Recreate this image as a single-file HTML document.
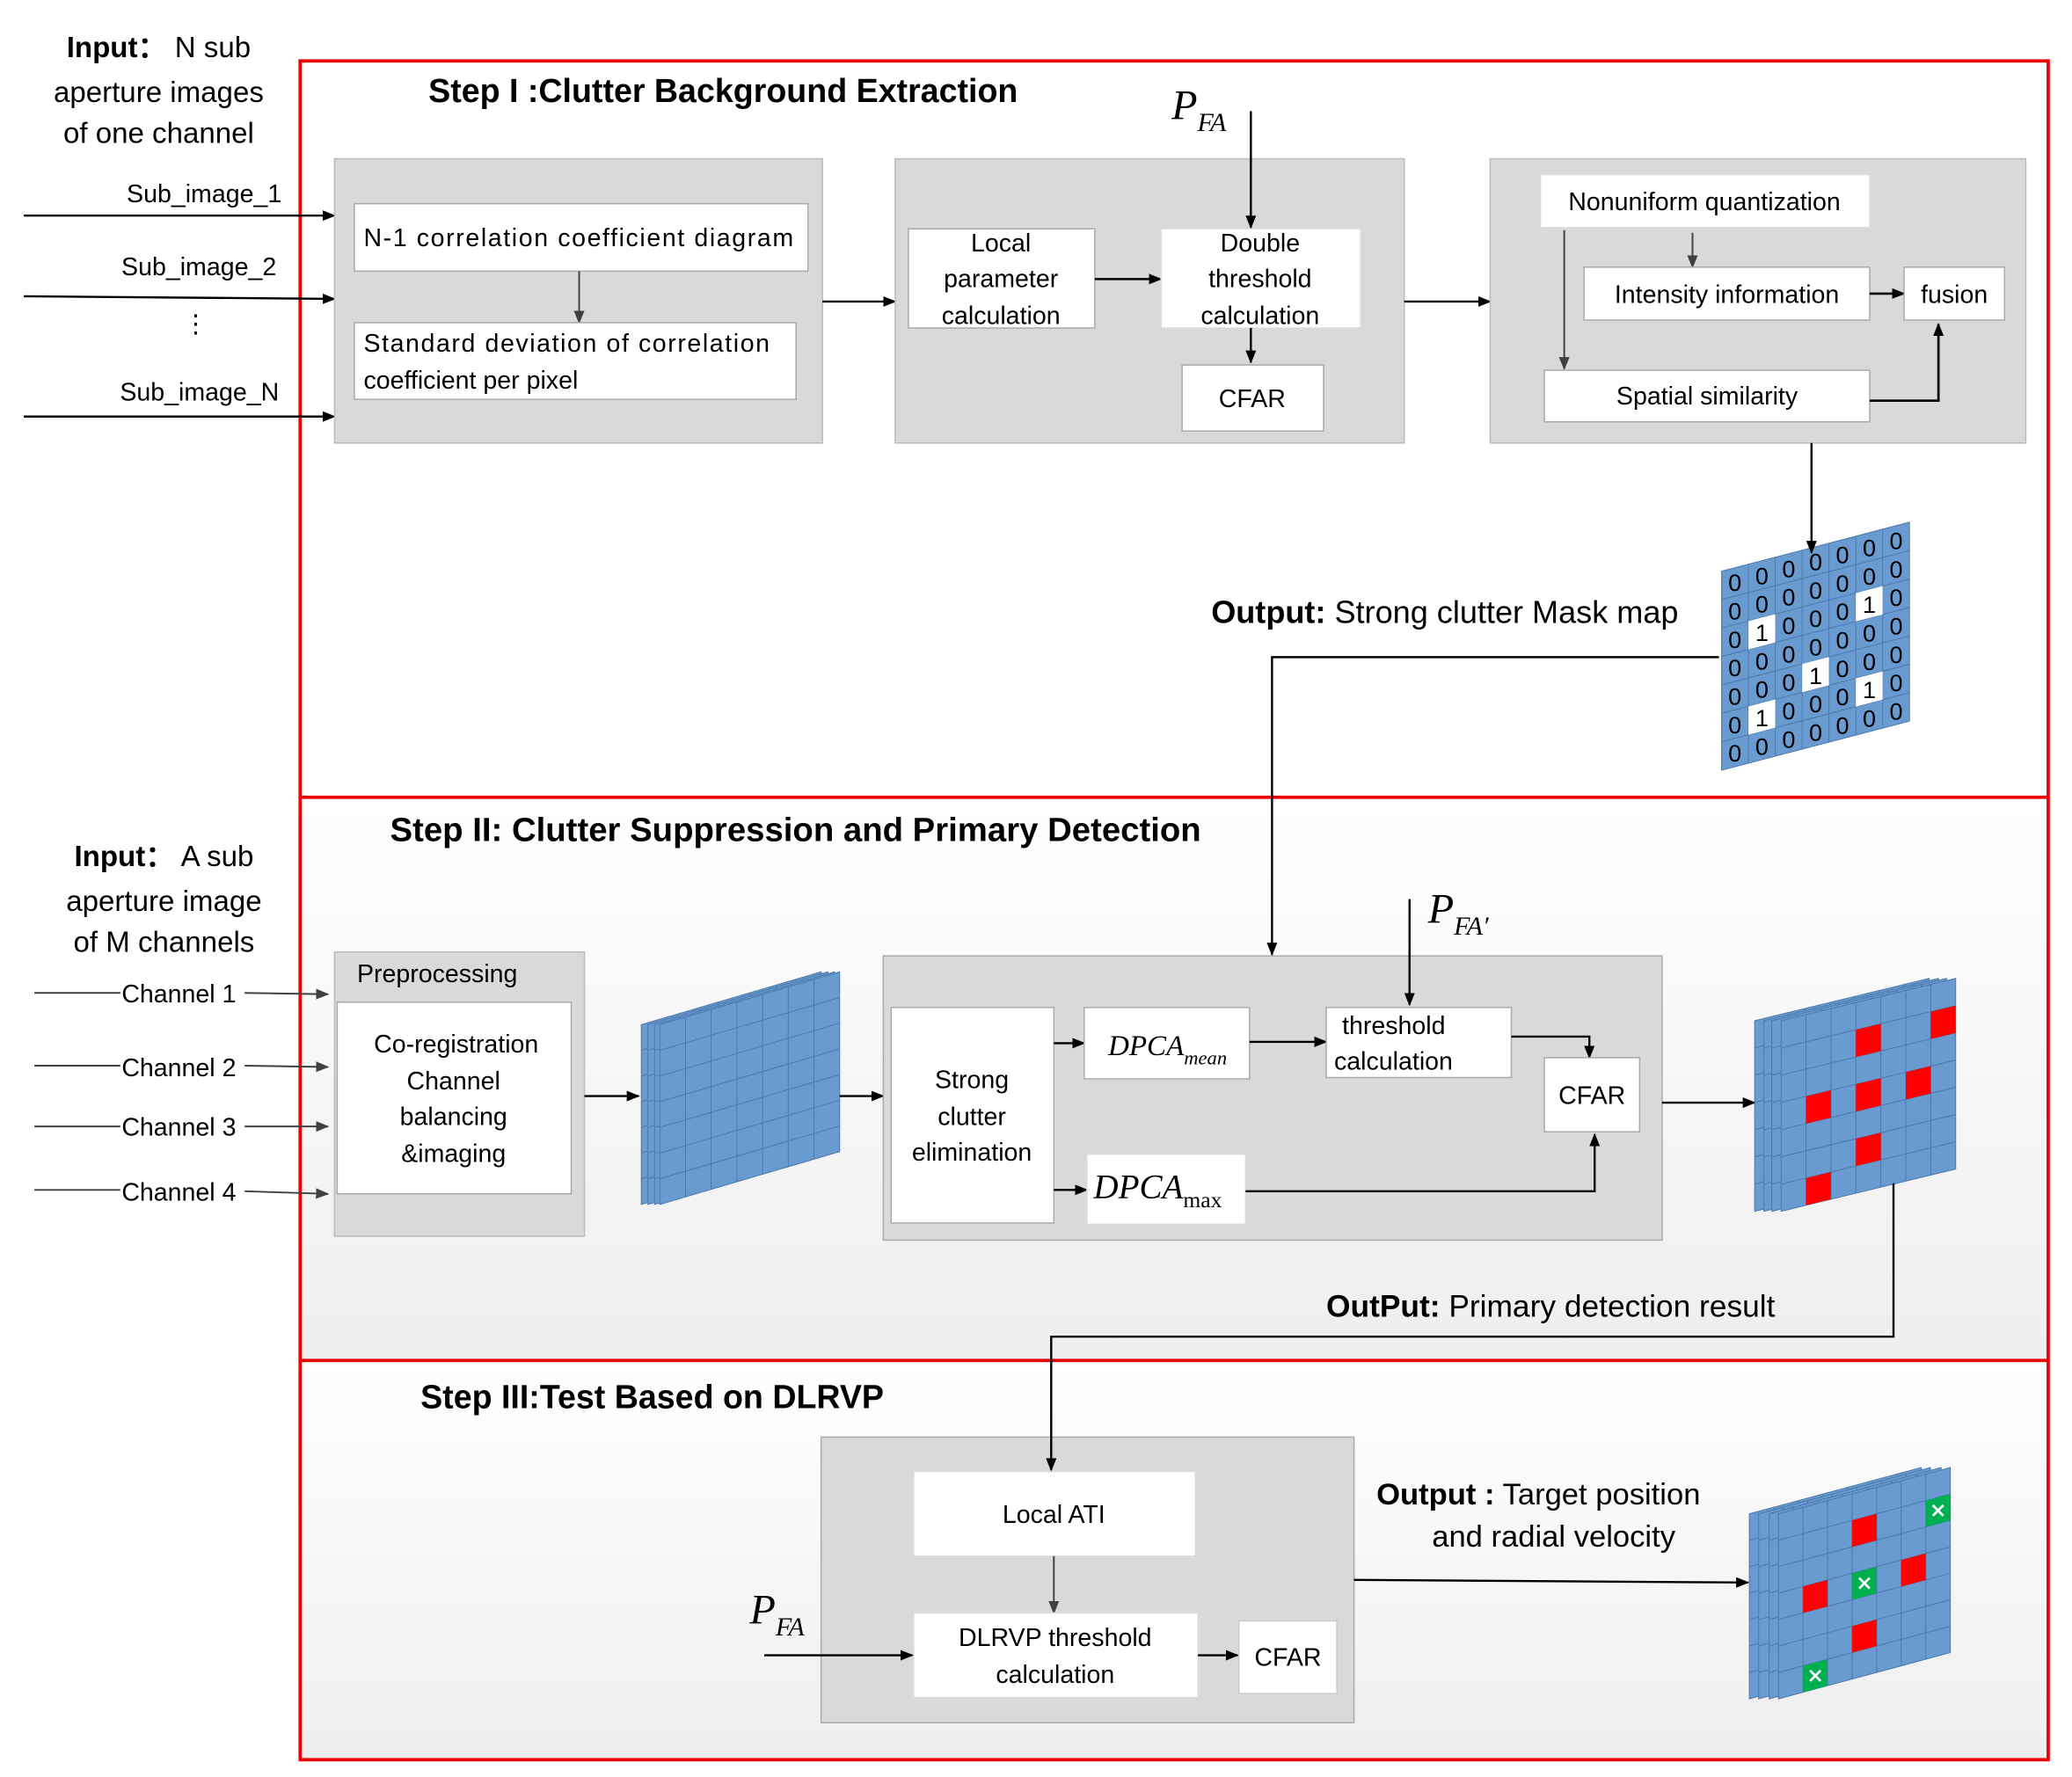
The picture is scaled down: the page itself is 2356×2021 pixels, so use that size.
<!DOCTYPE html>
<html><head><meta charset="utf-8"><style>
html,body{margin:0;padding:0;background:#fff}
svg{display:block}
text{font-family:"Liberation Sans",sans-serif;fill:#000}
.t{font-size:19px}
.b{font-weight:bold}
.m{font-family:"Liberation Serif",serif;font-style:italic}
.d{font-size:18px;text-anchor:middle}
</style></head><body>
<svg width="2356" height="2021" viewBox="0 0 1567 1344" xmlns="http://www.w3.org/2000/svg">
<defs>
<marker id="ar" markerWidth="10" markerHeight="10" refX="9" refY="5" orient="auto" markerUnits="userSpaceOnUse"><path d="M0,1 L10,5 L0,9 Z" fill="#000"/></marker>
<marker id="ag" markerWidth="10" markerHeight="10" refX="9" refY="5" orient="auto" markerUnits="userSpaceOnUse"><path d="M0,1 L10,5 L0,9 Z" fill="#404040"/></marker>
<linearGradient id="gr" x1="0" y1="0" x2="0" y2="1"><stop offset="0" stop-color="#ffffff"/><stop offset="1" stop-color="#eeeeee"/></linearGradient>
<g id="layer"><rect x="0" y="0" width="7" height="7" fill="#6a9bd0" stroke="#4a78ad" stroke-width="1" vector-effect="non-scaling-stroke"/><path d="M1 0V7M2 0V7M3 0V7M4 0V7M5 0V7M6 0V7M0 1H7M0 2H7M0 3H7M0 4H7M0 5H7M0 6H7" stroke="#4a78ad" stroke-width="1" vector-effect="non-scaling-stroke" fill="none"/></g>
</defs>

<rect x="227" y="603" width="1322" height="426" fill="url(#gr)"/>
<rect x="227" y="1029" width="1322" height="302" fill="url(#gr)"/>
<rect x="227" y="46" width="1322" height="1285" fill="none" stroke="#e00" stroke-width="2.5"/>
<line x1="227" y1="603" x2="1549" y2="603" stroke="#e00" stroke-width="2.5"/>
<line x1="227" y1="1029" x2="1549" y2="1029" stroke="#e00" stroke-width="2.5"/>

<text x="120" y="43" text-anchor="middle" style="font-size:22px"><tspan class="b">Input：</tspan> N sub</text>
<text x="120" y="77" text-anchor="middle" style="font-size:22px">aperture images</text>
<text x="120" y="108" text-anchor="middle" style="font-size:22px">of one channel</text>
<text x="213" y="153" text-anchor="end" class="t">Sub_image_1</text>
<text x="209" y="208" text-anchor="end" class="t">Sub_image_2</text>
<text x="148" y="251" text-anchor="middle" class="t">⋮</text>
<text x="211" y="303" text-anchor="end" class="t">Sub_image_N</text>
<line x1="18" y1="163" x2="253" y2="163" stroke="#000" stroke-width="1.6" marker-end="url(#ar)"/>
<line x1="18" y1="224" x2="253" y2="226" stroke="#000" stroke-width="1.6" marker-end="url(#ar)"/>
<line x1="18" y1="315" x2="253" y2="315" stroke="#000" stroke-width="1.6" marker-end="url(#ar)"/>

<text x="324" y="77" class="b" style="font-size:25px">Step I :Clutter Background Extraction</text>

<rect x="253" y="120" width="369" height="215" fill="#d9d9d9" stroke="#bbb"/>
<rect x="268" y="154" width="343" height="51" fill="#fff" stroke="#aaa"/>
<text x="275" y="186" class="t" textLength="325">N-1 correlation coefficient diagram</text>
<line x1="438" y1="205" x2="438" y2="244" stroke="#404040" stroke-width="1.3" marker-end="url(#ag)"/>
<rect x="268" y="244" width="334" height="58" fill="#fff" stroke="#aaa"/>
<text x="275" y="266" class="t" textLength="307">Standard deviation of correlation</text>
<text x="275" y="294" class="t">coefficient per pixel</text>
<line x1="622" y1="228" x2="677" y2="228" stroke="#000" stroke-width="1.6" marker-end="url(#ar)"/>

<rect x="677" y="120" width="385" height="215" fill="#d9d9d9" stroke="#bbb"/>
<rect x="687" y="173" width="141" height="75" fill="#fff" stroke="#aaa"/>
<text x="757" y="190" class="t" text-anchor="middle">Local</text>
<text x="757" y="217" class="t" text-anchor="middle">parameter</text>
<text x="757" y="245" class="t" text-anchor="middle">calculation</text>
<line x1="828" y1="211" x2="878" y2="211" stroke="#000" stroke-width="1.6" marker-end="url(#ar)"/>
<rect x="878" y="173" width="151" height="75" fill="#fff" stroke="#ddd"/>
<text x="953" y="190" class="t" text-anchor="middle">Double</text>
<text x="953" y="217" class="t" text-anchor="middle">threshold</text>
<text x="953" y="245" class="t" text-anchor="middle">calculation</text>
<text x="886" y="90" class="m" style="font-size:32px">P<tspan dy="9" style="font-size:20px">FA</tspan></text>
<line x1="946" y1="84" x2="946" y2="172" stroke="#000" stroke-width="1.6" marker-end="url(#ar)"/>
<line x1="946" y1="248" x2="946" y2="274" stroke="#000" stroke-width="1.6" marker-end="url(#ar)"/>
<rect x="894" y="276" width="107" height="50" fill="#fff" stroke="#aaa"/>
<text x="947" y="308" class="t" text-anchor="middle">CFAR</text>
<line x1="1062" y1="228" x2="1127" y2="228" stroke="#000" stroke-width="1.6" marker-end="url(#ar)"/>

<rect x="1127" y="120" width="405" height="215" fill="#d9d9d9" stroke="#bbb"/>
<rect x="1165" y="132" width="249" height="40" fill="#fff" stroke="#ddd"/>
<text x="1289" y="159" class="t" text-anchor="middle">Nonuniform quantization</text>
<line x1="1280" y1="176" x2="1280" y2="202" stroke="#404040" stroke-width="1.3" marker-end="url(#ag)"/>
<line x1="1183" y1="174" x2="1183" y2="279" stroke="#404040" stroke-width="1.3" marker-end="url(#ag)"/>
<rect x="1198" y="202" width="216" height="40" fill="#fff" stroke="#aaa"/>
<text x="1306" y="229" class="t" text-anchor="middle">Intensity information</text>
<line x1="1414" y1="222" x2="1440" y2="222" stroke="#000" stroke-width="1.8" marker-end="url(#ar)"/>
<rect x="1440" y="202" width="76" height="40" fill="#fff" stroke="#aaa"/>
<text x="1478" y="229" class="t" text-anchor="middle">fusion</text>
<rect x="1168" y="280" width="246" height="39" fill="#fff" stroke="#aaa"/>
<text x="1291" y="306" class="t" text-anchor="middle">Spatial similarity</text>
<polyline points="1414,303 1466,303 1466,245" fill="none" stroke="#000" stroke-width="1.8" marker-end="url(#ar)"/>

<g transform="matrix(20.3,-5.3,0,21.5,1302,432)">
<use href="#layer"/>
<rect x="1" y="2" width="1" height="1" fill="#fff"/><rect x="5" y="2" width="1" height="1" fill="#fff"/><rect x="3" y="4" width="1" height="1" fill="#fff"/><rect x="5" y="5" width="1" height="1" fill="#fff"/><rect x="1" y="5" width="1" height="1" fill="#fff"/>
</g>
<text class="d" x="1312" y="447">0<tspan x="1312" dy="21.5">0</tspan><tspan x="1312" dy="21.5">0</tspan><tspan x="1312" dy="21.5">0</tspan><tspan x="1312" dy="21.5">0</tspan><tspan x="1312" dy="21.5">0</tspan><tspan x="1312" dy="21.5">0</tspan></text>
<text class="d" x="1332.5" y="441.8">0<tspan x="1332.5" dy="21.5">0</tspan><tspan x="1332.5" dy="21.5">1</tspan><tspan x="1332.5" dy="21.5">0</tspan><tspan x="1332.5" dy="21.5">0</tspan><tspan x="1332.5" dy="21.5">1</tspan><tspan x="1332.5" dy="21.5">0</tspan></text>
<text class="d" x="1352.8" y="436.5">0<tspan x="1352.8" dy="21.5">0</tspan><tspan x="1352.8" dy="21.5">0</tspan><tspan x="1352.8" dy="21.5">0</tspan><tspan x="1352.8" dy="21.5">0</tspan><tspan x="1352.8" dy="21.5">0</tspan><tspan x="1352.8" dy="21.5">0</tspan></text>
<text class="d" x="1373.1" y="431.2">0<tspan x="1373.1" dy="21.5">0</tspan><tspan x="1373.1" dy="21.5">0</tspan><tspan x="1373.1" dy="21.5">0</tspan><tspan x="1373.1" dy="21.5">1</tspan><tspan x="1373.1" dy="21.5">0</tspan><tspan x="1373.1" dy="21.5">0</tspan></text>
<text class="d" x="1393.4" y="425.9">0<tspan x="1393.4" dy="21.5">0</tspan><tspan x="1393.4" dy="21.5">0</tspan><tspan x="1393.4" dy="21.5">0</tspan><tspan x="1393.4" dy="21.5">0</tspan><tspan x="1393.4" dy="21.5">0</tspan><tspan x="1393.4" dy="21.5">0</tspan></text>
<text class="d" x="1413.7" y="420.6">0<tspan x="1413.7" dy="21.5">0</tspan><tspan x="1413.7" dy="21.5">1</tspan><tspan x="1413.7" dy="21.5">0</tspan><tspan x="1413.7" dy="21.5">0</tspan><tspan x="1413.7" dy="21.5">1</tspan><tspan x="1413.7" dy="21.5">0</tspan></text>
<text class="d" x="1434" y="415.3">0<tspan x="1434" dy="21.5">0</tspan><tspan x="1434" dy="21.5">0</tspan><tspan x="1434" dy="21.5">0</tspan><tspan x="1434" dy="21.5">0</tspan><tspan x="1434" dy="21.5">0</tspan><tspan x="1434" dy="21.5">0</tspan></text>

<text x="916" y="471" style="font-size:24px"><tspan class="b">Output:</tspan> Strong clutter Mask map</text>

<text x="295" y="636" class="b" style="font-size:25.5px">Step II: Clutter Suppression and Primary Detection</text>
<text x="124" y="655" text-anchor="middle" style="font-size:22px"><tspan class="b">Input：</tspan> A sub</text>
<text x="124" y="689" text-anchor="middle" style="font-size:22px">aperture image</text>
<text x="124" y="720" text-anchor="middle" style="font-size:22px">of M channels</text>
<g stroke="#404040" stroke-width="1.3">
<line x1="26" y1="751" x2="91" y2="751"/><line x1="185" y1="751" x2="248" y2="752" marker-end="url(#ag)"/>
<line x1="26" y1="806" x2="91" y2="806"/><line x1="185" y1="806" x2="248" y2="807" marker-end="url(#ag)"/>
<line x1="26" y1="852" x2="91" y2="852"/><line x1="185" y1="852" x2="248" y2="852" marker-end="url(#ag)"/>
<line x1="26" y1="900" x2="91" y2="900"/><line x1="185" y1="901" x2="248" y2="903" marker-end="url(#ag)"/>
</g>
<text x="92" y="758" class="t">Channel 1</text>
<text x="92" y="814" class="t">Channel 2</text>
<text x="92" y="859" class="t">Channel 3</text>
<text x="92" y="908" class="t">Channel 4</text>

<rect x="253" y="720" width="189" height="215" fill="#d9d9d9" stroke="#bbb"/>
<text x="270" y="743" class="t">Preprocessing</text>
<rect x="255" y="758" width="177" height="145" fill="#fff" stroke="#aaa"/>
<text x="345" y="796" class="t" text-anchor="middle">Co-registration</text>
<text x="343" y="824" class="t" text-anchor="middle">Channel</text>
<text x="343" y="851" class="t" text-anchor="middle">balancing</text>
<text x="343" y="879" class="t" text-anchor="middle">&amp;imaging</text>
<line x1="442" y1="829" x2="483" y2="829" stroke="#000" stroke-width="1.6" marker-end="url(#ar)"/>

<g transform="matrix(19.43,-5.71,0,19.43,485,775)"><use href="#layer"/></g>
<g transform="matrix(19.43,-5.71,0,19.43,490,775)"><use href="#layer"/></g>
<g transform="matrix(19.43,-5.71,0,19.43,495,775)"><use href="#layer"/></g>
<g transform="matrix(19.43,-5.71,0,19.43,499,775)"><use href="#layer"/></g>
<line x1="635" y1="829" x2="668" y2="829" stroke="#000" stroke-width="1.6" marker-end="url(#ar)"/>

<rect x="668" y="723" width="589" height="215" fill="#d9d9d9" stroke="#aaa"/>
<rect x="674" y="762" width="123" height="163" fill="#fff" stroke="#aaa"/>
<text x="735" y="823" class="t" text-anchor="middle">Strong</text>
<text x="735" y="851" class="t" text-anchor="middle">clutter</text>
<text x="735" y="878" class="t" text-anchor="middle">elimination</text>
<line x1="797" y1="789" x2="820" y2="789" stroke="#000" stroke-width="1.6" marker-end="url(#ar)"/>
<line x1="797" y1="900" x2="822" y2="900" stroke="#000" stroke-width="1.6" marker-end="url(#ar)"/>
<rect x="820" y="762" width="125" height="54" fill="#fff" stroke="#aaa"/>
<text x="838" y="798" class="m" style="font-size:22px">DPCA<tspan dy="7" style="font-size:15px">mean</tspan></text>
<line x1="945" y1="788" x2="1003" y2="788" stroke="#000" stroke-width="1.6" marker-end="url(#ar)"/>
<rect x="1003" y="762" width="140" height="53" fill="#fff" stroke="#aaa"/>
<text x="1015" y="782" class="t">threshold</text>
<text x="1009" y="809" class="t">calculation</text>
<text x="1080" y="698" class="m" style="font-size:32px">P<tspan dy="9" style="font-size:20px">FA′</tspan></text>
<line x1="1066" y1="680" x2="1066" y2="760" stroke="#000" stroke-width="1.6" marker-end="url(#ar)"/>
<polyline points="1143,784 1202,784 1202,800" fill="none" stroke="#000" stroke-width="1.6" marker-end="url(#ar)"/>
<rect x="1168" y="800" width="72" height="56" fill="#fff" stroke="#aaa"/>
<text x="1204" y="835" class="t" text-anchor="middle">CFAR</text>
<rect x="822" y="873" width="120" height="53" fill="#fff" stroke="#ddd"/>
<text x="827" y="906" class="m" style="font-size:26px">DPCA<tspan dy="7" style="font-size:17px;font-style:normal">max</tspan></text>
<polyline points="942,901 1206,901 1206,858" fill="none" stroke="#000" stroke-width="1.6" marker-end="url(#ar)"/>
<line x1="1257" y1="834" x2="1327" y2="834" stroke="#000" stroke-width="1.6" marker-end="url(#ar)"/>

<g transform="matrix(18.86,-4.57,0,20.6,1327,772)"><use href="#layer"/></g>
<g transform="matrix(18.86,-4.57,0,20.6,1334,772)"><use href="#layer"/></g>
<g transform="matrix(18.86,-4.57,0,20.6,1340,772)"><use href="#layer"/></g>
<g transform="matrix(18.86,-4.57,0,20.6,1347,772)"><use href="#layer"/>
<g fill="#f00"><rect x="6" y="1" width="1" height="1"/><rect x="3" y="1" width="1" height="1"/><rect x="5" y="3" width="1" height="1"/><rect x="3" y="3" width="1" height="1"/><rect x="1" y="3" width="1" height="1"/><rect x="3" y="5" width="1" height="1"/><rect x="1" y="6" width="1" height="1"/></g></g>

<text x="1003" y="996" style="font-size:23.5px"><tspan class="b">OutPut:</tspan> Primary detection result</text>

<text x="318" y="1065" class="b" style="font-size:25px">Step III:Test Based on DLRVP</text>
<rect x="621" y="1087" width="403" height="216" fill="#d9d9d9" stroke="#aaa"/>
<rect x="691" y="1113" width="213" height="64" fill="#fff" stroke="#ddd"/>
<text x="797" y="1152" class="t" text-anchor="middle">Local ATI</text>
<line x1="797" y1="1177" x2="797" y2="1220" stroke="#404040" stroke-width="1.3" marker-end="url(#ag)"/>
<rect x="691" y="1220" width="215" height="64" fill="#fff" stroke="#ddd"/>
<text x="798" y="1245" class="t" text-anchor="middle">DLRVP threshold</text>
<text x="798" y="1273" class="t" text-anchor="middle">calculation</text>
<line x1="906" y1="1252" x2="936" y2="1252" stroke="#000" stroke-width="1.6" marker-end="url(#ar)"/>
<rect x="937" y="1226" width="74" height="55" fill="#fff" stroke="#ccc"/>
<text x="974" y="1260" class="t" text-anchor="middle">CFAR</text>
<text x="567" y="1228" class="m" style="font-size:32px">P<tspan dy="9" style="font-size:20px">FA</tspan></text>
<line x1="578" y1="1252" x2="690" y2="1252" stroke="#000" stroke-width="1.6" marker-end="url(#ar)"/>

<text x="1041" y="1138" style="font-size:23px"><tspan class="b">Output :</tspan> Target position</text>
<text x="1175" y="1170" text-anchor="middle" style="font-size:23px">and radial velocity</text>
<line x1="1024" y1="1195" x2="1322" y2="1197" stroke="#000" stroke-width="1.6" marker-end="url(#ar)"/>

<g transform="matrix(18.57,-5,0,20,1323,1145)"><use href="#layer"/></g>
<g transform="matrix(18.57,-5,0,20,1330,1145)"><use href="#layer"/></g>
<g transform="matrix(18.57,-5,0,20,1338,1145)"><use href="#layer"/></g>
<g transform="matrix(18.57,-5,0,20,1345,1145)"><use href="#layer"/>
<g fill="#f00"><rect x="3" y="1" width="1" height="1"/><rect x="5" y="3" width="1" height="1"/><rect x="1" y="3" width="1" height="1"/><rect x="3" y="5" width="1" height="1"/></g>
<g fill="#00b050"><rect x="6" y="1" width="1" height="1"/><rect x="3" y="3" width="1" height="1"/><rect x="1" y="6" width="1" height="1"/></g></g>
<g stroke="#fff" stroke-width="1.8">
<path d="M1461.7,1138.5 l8,8 M1469.7,1138.5 l-8,8"/>
<path d="M1406,1193.5 l8,8 M1414,1193.5 l-8,8"/>
<path d="M1368.9,1263.5 l8,8 M1376.9,1263.5 l-8,8"/>
</g>

<line x1="1370" y1="335" x2="1370" y2="418" stroke="#000" stroke-width="1.6" marker-end="url(#ar)"/>
<polyline points="1300,497 962,497 962,722" fill="none" stroke="#000" stroke-width="1.6" marker-end="url(#ar)"/>
<polyline points="1432,895 1432,1011 795,1011 795,1112" fill="none" stroke="#000" stroke-width="1.6" marker-end="url(#ar)"/>
</svg>
</body></html>
